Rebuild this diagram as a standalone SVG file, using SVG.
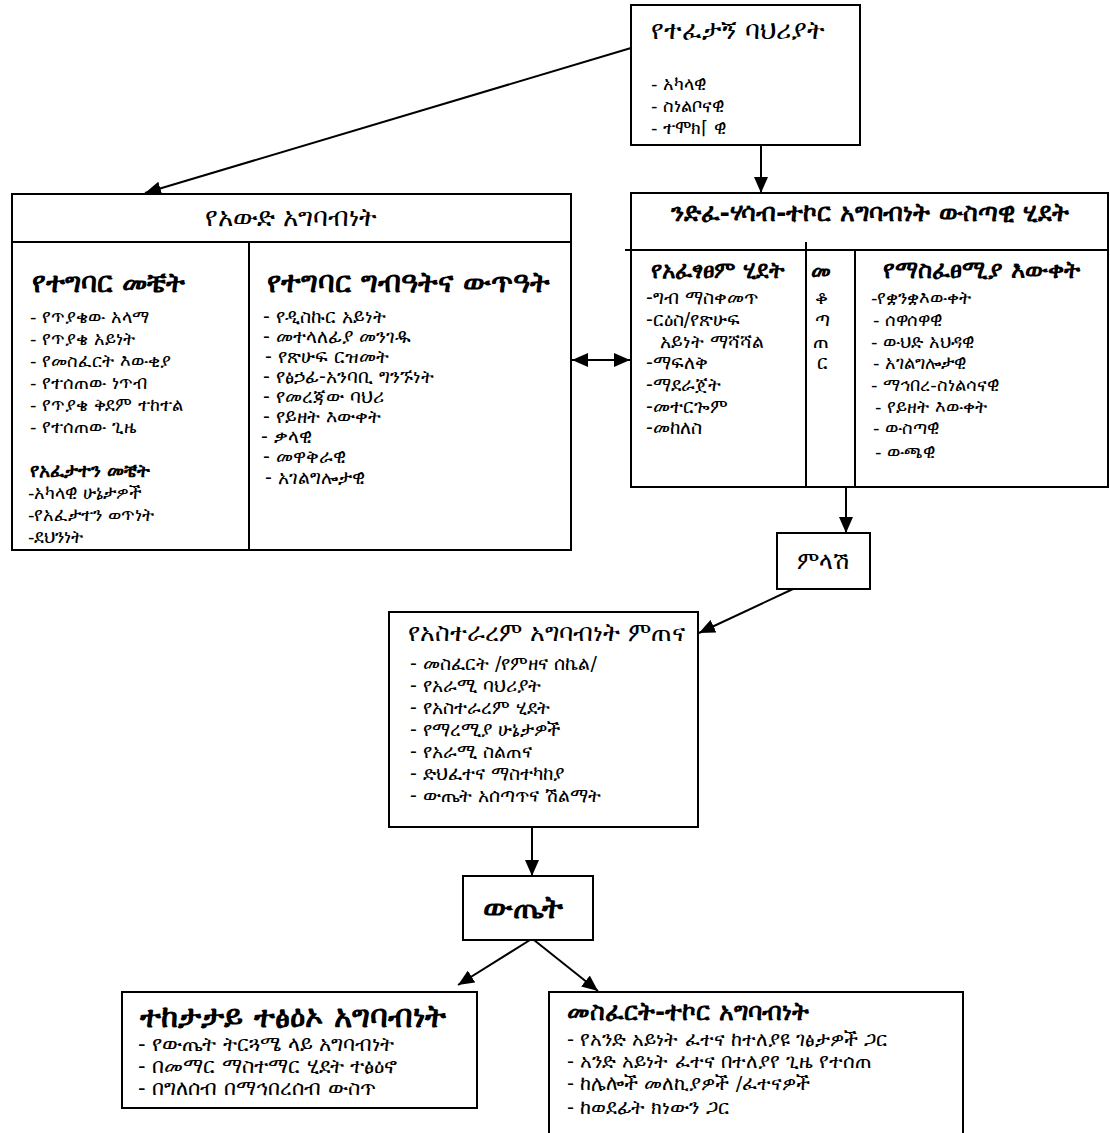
<svg xmlns="http://www.w3.org/2000/svg" width="1110" height="1133" viewBox="0 0 1110 1133">
<defs>
<style>
.box{fill:#fff;stroke:#000;stroke-width:2}
.ln{fill:none;stroke:#000;stroke-width:2}
.t{font-family:'DejaVu Sans','Noto Sans',sans-serif;fill:#000;font-size:18px}
.i{font-size:19px}
.h{font-size:26px}
.b{font-weight:bold}
.c{text-anchor:middle}
</style>
<marker id="ah" markerUnits="userSpaceOnUse" markerWidth="16" markerHeight="14" refX="16" refY="7" orient="auto-start-reverse">
<path d="M0,0 L16,7 L0,14 z" fill="#000"/>
</marker>
</defs>
<rect width="1110" height="1133" fill="#fff"/>

<g id="connectors">
<line class="ln" x1="631" y1="48" x2="145" y2="193" marker-end="url(#ah)"/>
<line class="ln" x1="761" y1="145" x2="761" y2="193" marker-end="url(#ah)"/>
<line class="ln" x1="572" y1="360" x2="630" y2="360" marker-start="url(#ah)" marker-end="url(#ah)"/>
<line class="ln" x1="846" y1="487" x2="846" y2="533" marker-end="url(#ah)"/>
<line class="ln" x1="793" y1="589" x2="699" y2="633" marker-end="url(#ah)"/>
<line class="ln" x1="532" y1="827" x2="532" y2="876" marker-end="url(#ah)"/>
<line class="ln" x1="530" y1="940" x2="458" y2="985" marker-end="url(#ah)"/>
<line class="ln" x1="534" y1="940" x2="598" y2="991" marker-end="url(#ah)"/>
</g>

<g id="node-examinee">
<rect class="box" x="631" y="5" width="229" height="140"/>
<text class="t h" x="651" y="39">የተፈታኝ ባህሪያት</text>
<text class="t" x="651" y="90">- አካላዊ</text>
<text class="t" x="651" y="112">- ስነልቦናዊ</text>
<text class="t" x="651" y="134">- ተሞክ⌈ ዊ</text>
</g>

<g id="node-context">
<rect class="box" x="12" y="194" width="559" height="356"/>
<line class="ln" x1="12" y1="242" x2="571" y2="242"/>
<line class="ln" x1="249" y1="242" x2="249" y2="550"/>
<text class="t h c" x="291" y="226">የአውድ አግባብነት</text>
<text class="t b" x="32" y="292" style="font-size:28px">የተግባር መቼት</text>
<text class="t" x="30" y="323">- የጥያቄው አላማ</text>
<text class="t" x="30" y="345">- የጥያቄ አይነት</text>
<text class="t" x="30" y="367">-  የመስፈርት እውቂያ</text>
<text class="t" x="30" y="389">- የተሰጠው ነጥብ</text>
<text class="t" x="30" y="411">- የጥያቄ ቅደም ተከተል</text>
<text class="t" x="30" y="433">- የተሰጠው ጊዜ</text>
<text class="t b" x="30" y="477" style="font-size:18.5px">የአፈታተን መቼት</text>
<text class="t" x="28" y="499">-አካላዊ ሁኔታዎች</text>
<text class="t" x="28" y="521">-የአፈታተን ወጥነት</text>
<text class="t" x="28" y="543">-ደህንነት</text>
<text class="t b" x="267" y="292" style="font-size:29px">የተግባር ግብዓትና ውጥዓት</text>
<text class="t i" x="263" y="323">- የዲስኩር አይነት</text>
<text class="t i" x="263" y="343">- መተላለፊያ መንገዱ</text>
<text class="t i" x="265" y="363"> - የጽሁፍ  ርዝመት</text>
<text class="t i" x="263" y="383">-  የፅኃፊ-አንባቢ  ግንኙነት</text>
<text class="t i" x="263" y="403">- የመረጃው ባህሪ</text>
<text class="t i" x="263" y="423">- የይዘት እውቀት</text>
<text class="t i" x="261" y="443">- ቃላዊ</text>
<text class="t i" x="263" y="463">- መዋቅራዊ</text>
<text class="t i" x="265" y="484">- አገልግሎታዊ</text>
</g>

<g id="node-internal">
<rect class="box" x="631" y="193" width="477" height="294"/>
<line class="ln" x1="625" y1="250" x2="1108" y2="250"/>
<line class="ln" x1="806" y1="242" x2="806" y2="487"/>
<line class="ln" x1="855" y1="250" x2="855" y2="487"/>
<text class="t b c" x="870" y="221" style="font-size:25px">ንድፈ-ሃሳብ-ተኮር አግባብነት ውስጣዊ ሂደት</text>
<text class="t b" x="651" y="278" style="font-size:23px">የአፈፃፀም ሂደት</text>
<text class="t i" x="646" y="304">-ግብ ማስቀመጥ</text>
<text class="t i" x="646" y="326">-ርዕስ/የጽሁፍ</text>
<text class="t i" x="660" y="348">አይነት ማሻሻል</text>
<text class="t i" x="646" y="369">-ማፍለቅ</text>
<text class="t i" x="646" y="391">-ማደራጀት</text>
<text class="t i" x="646" y="413">-መተርጐም</text>
<text class="t i" x="646" y="434">-መከለስ</text>
<text class="t b" x="811" y="278" style="font-size:22px">መ</text>
<text class="t i" x="815" y="304">ቆ</text>
<text class="t i" x="815" y="326">ጣ</text>
<text class="t i" x="813" y="348">ጠ</text>
<text class="t i" x="817" y="369">ር</text>
<text class="t b" x="883" y="278" style="font-size:23.5px">የማስፈፀሚያ እውቀት</text>
<text class="t" x="871" y="304">-የቋንቋእውቀት</text>
<text class="t" x="873" y="326">- ሰዋሰዋዊ</text>
<text class="t" x="871" y="348">- ውህድ አህዳዊ</text>
<text class="t" x="873" y="369">- አገልግሎታዊ</text>
<text class="t" x="871" y="391">- ማኅበረ-ስነልሳናዊ</text>
<text class="t" x="875" y="413">- የይዘት እውቀት</text>
<text class="t" x="873" y="434">-  ውስጣዊ</text>
<text class="t" x="875" y="458">- ውጫዊ</text>
</g>

<g id="node-response">
<rect class="box" x="777" y="533" width="93" height="56"/>
<text class="t c" x="823" y="569" style="font-size:24px">ምላሽ</text>
</g>

<g id="node-scoring">
<rect class="box" x="389" y="612" width="309" height="215"/>
<text class="t" x="408" y="641" style="font-size:25px">የአስተራረም አግባብነት ምጠና</text>
<text class="t i" x="410" y="670">- መስፈርት /የምዘና ሰኬል/</text>
<text class="t i" x="410" y="692">- የአራሚ ባህሪያት</text>
<text class="t i" x="410" y="714">- የአስተራረም ሂደት</text>
<text class="t i" x="410" y="736">- የማረሚያ ሁኔታዎች</text>
<text class="t i" x="410" y="758">- የአራሚ ስልጠና</text>
<text class="t i" x="410" y="780">- ድህፈተና ማስተካከያ</text>
<text class="t i" x="410" y="802">- ውጤት አሰጣጥና ሽልማት</text>
</g>

<g id="node-result">
<rect class="box" x="463" y="876" width="130" height="64"/>
<text class="t b c" x="523" y="918" style="font-size:31px">ውጤት</text>
</g>

<g id="node-consequential">
<rect class="box" x="122" y="992" width="355" height="116"/>
<text class="t b" x="140" y="1027" style="font-size:31px">ተከታታይ ተፅዕኦ አግባብነት</text>
<text class="t" x="138" y="1051" style="font-size:21px">-  የውጤት ትርጓሜ ላይ አግባብነት</text>
<text class="t" x="138" y="1073" style="font-size:21px">- በመማር ማስተማር ሂደት ተፅዕኖ</text>
<text class="t" x="138" y="1095" style="font-size:21px">- በግለሰብ በማኅበረሰብ ውስጥ</text>
</g>

<g id="node-criterion">
<rect class="box" x="549" y="992" width="414" height="150"/>
<text class="t b" x="567" y="1020" style="font-size:24.5px">መስፈርት-ተኮር አግባብነት</text>
<text class="t" x="567" y="1046" style="font-size:19.5px">- የአንድ አይነት ፈተና ከተለያዩ ገፅታዎች ጋር</text>
<text class="t" x="567" y="1068" style="font-size:19.5px">- አንድ አይነት ፈተና በተለያየ ጊዜ የተሰጠ</text>
<text class="t" x="567" y="1090" style="font-size:19.5px">- ከሌሎች መለኪያዎች /ፈተናዎች</text>
<text class="t" x="567" y="1114" style="font-size:19.5px">- ከወደፊት ክነውን ጋር</text>
</g>
</svg>
